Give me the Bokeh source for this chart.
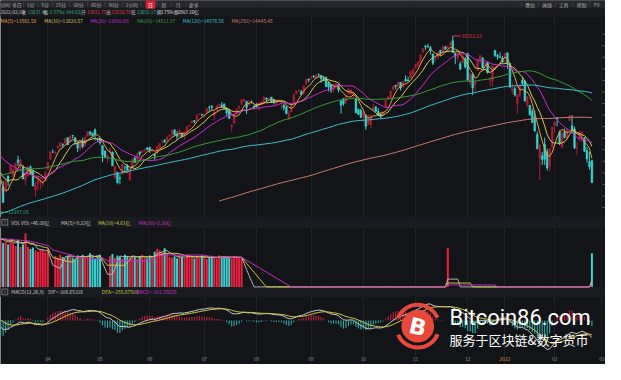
import numpy as np
import pandas as pd
from bokeh.plotting import figure
from bokeh.models import Range1d, Grid, FixedTicker, Label
from bokeh.embed import file_html
from bokeh.resources import INLINE

# ---------------- data ----------------
# closes before the visible window (feed the long moving averages and MACD only)
pre_close = [
    10550, 10473, 10503, 10767, 10680, 10706, 10461, 10363, 10536, 10402, 10542, 10587, 10745,
    10902, 10941, 10998, 11108, 11010, 10968, 10782, 11012, 11042, 11019, 11129, 11210, 11146, 11264, 11311, 11379, 11466, 11665, 11625, 11695, 11775,
    11939, 12056, 11458, 11313, 10847, 11141, 10919, 10853, 11056, 11190, 11050, 10910, 10793, 10778, 10963, 10633, 10672, 10913, 11117, 11085, 11168,
    11326, 11076, 11332, 11154, 11365, 11420, 11579, 11876, 11863, 11768, 11714, 11671, 11478, 11516, 11484, 11506, 11548, 11358, 11431, 11005, 11185, 10912,
    10957, 11161, 11590, 11891, 11895, 11713, 11554, 11787, 11710, 11829, 11925, 11899, 11802, 11905, 11855, 11881, 12037, 12094, 12206, 12199,
    12355, 12349, 12377, 12464, 12519, 12583, 12339, 12405, 12378, 12440, 12595, 12658, 12764, 12755, 12742, 12807, 12771, 12805, 12899, 12843, 12870, 12888,
    12698, 12818, 12740, 13067, 13202, 13036, 13072, 13128, 13112, 12998, 13197, 13457, 13530, 13543, 13635, 13626, 12998, 13337, 13070,
    13403, 13612, 13610, 13777, 13856, 13987, 14007, 13972, 14025, 14095, 14047, 13965, 13865, 13874, 13533, 13465, 13597, 13119, 13192,
    13588, 13358, 12997, 12723,
]
pre_volume = [62, 70, 66, 68, 64, 72, 60, 66, 70, 63, 68, 65, 71, 62, 67, 64, 69, 66, 63]

# visible daily candles (2021/03/05 .. 2022/02/23)
open_ = (
    [12789, 12950, 12840, 13180, 13250, 13200, 13320, 13530, 13420, 13380, 13090, 13190, 13380, 13280, 12880, 13000, 13050, 13020, 13070]
    + [13320, 13540, 13700, 13680, 13800, 13820, 13860, 13890, 14010, 13920, 14060, 14010, 13900, 13780, 13950, 13840, 14040, 14140, 14110, 14180, 13970]
    + [14000, 13840, 13720, 13570, 13700, 13700, 13140, 13260, 13140, 13220, 13380, 13400, 13100, 13350, 13570, 13520, 13700, 13690, 13720, 13790]
    + [13800, 13750, 13640, 13660, 13800, 13920, 13950, 13940, 14040, 14080, 14180, 14090, 14040, 14100, 14050, 14140, 14260, 14330, 14380, 14390, 14520, 14510]
    + [14510, 14550, 14670, 14700, 14490, 14600, 14710, 14720, 14740, 14640, 14600, 14240, 14320, 14530, 14650, 14730, 14810, 14800, 14720, 14780, 14680]
    + [14720, 14710, 14740, 14790, 14870, 14860, 14890, 14840, 14760, 14820, 14790, 14720, 14670, 14410, 14570, 14760, 14960, 15030, 15010, 14960, 15170, 15280]
    + [15290, 15340, 15300, 15380, 15360, 15290, 15320, 15210, 15160, 15040, 15130, 15160, 14800, 14850, 14780, 14960, 14960, 14940, 14850, 14620, 14600]
    + [14460, 14500, 14290, 14290, 14620, 14680, 14580, 14510, 14510, 14680, 14840, 14860, 15050, 15150, 15110, 15210, 15120, 15270, 15260, 15300, 15390]
    + [15510, 15580, 15640, 15860, 15990, 15990, 15960, 15820, 15690, 15750, 15900, 15850, 15980, 15950, 16010, 16110, 15830, 15730, 15610, 15640, 15720]
    + [15830, 15200, 15380, 15150, 15470, 15710, 15730, 15600, 15640, 15230, 15240, 15900, 15790, 15760, 15730]
    + [15730, 15850, 15620, 15020, 15070, 14750, 14930, 15250, 15230, 14710, 14710, 14580, 14450, 14080, 13560, 13620, 13870, 13710, 13380, 13810]
    + [14270, 14440, 14130, 13800, 14130, 14000, 14380, 14270, 14200, 13780, 13970, 14080, 14010, 13730, 13490, 13511.75]
)
high = (
    [12940, 13070, 13130, 13190, 13420, 13325, 13460, 13620, 13560, 13420, 13240, 13400, 13410, 13300, 13050, 13140, 13130, 13070, 13300]
    + [13480, 13710, 13760, 13720, 13830, 13900, 13890, 14010, 14020, 14050, 14060, 14020, 13920, 13950, 14010, 14060, 14140, 14150, 14110, 14210, 14000]
    + [14010, 13840, 13730, 13640, 13800, 13710, 13400, 13260, 13210, 13450, 13390, 13440, 13330, 13560, 13600, 13690, 13720, 13740, 13780, 13800]
    + [13810, 13780, 13660, 13830, 13890, 13970, 13980, 14040, 14080, 14180, 14180, 14150, 14200, 14130, 14150, 14260, 14300, 14380, 14390, 14510, 14540, 14530]
    + [14530, 14640, 14700, 14700, 14600, 14710, 14740, 14780, 14750, 14650, 14620, 14300, 14550, 14640, 14710, 14840, 14850, 14800, 14830, 14820, 14730]
    + [14760, 14770, 14810, 14900, 14880, 14880, 14890, 14840, 14820, 14830, 14800, 14730, 14700, 14600, 14730, 14950, 15030, 15060, 15040, 15140, 15290, 15290]
    + [15350, 15370, 15380, 15400, 15360, 15350, 15330, 15220, 15170, 15170, 15200, 15160, 14840, 14870, 14950, 15080, 15050, 15000, 14850, 14640, 14640]
    + [14590, 14520, 14510, 14510, 14740, 14690, 14650, 14560, 14580, 14830, 14900, 15030, 15130, 15150, 15220, 15210, 15230, 15360, 15330, 15450, 15500]
    + [15600, 15660, 15820, 15960, 16020, 16040, 15990, 15830, 15760, 15870, 15910, 16010, 15990, 16000, 16100, 16212.23, 15840, 15850, 15660, 15810, 15760]
    + [15850, 15420, 15400, 15260, 15700, 15790, 15760, 15650, 15640, 15320, 15580, 15900, 15820, 15860, 15780]
    + [15850, 15850, 15630, 15200, 15110, 14950, 15160, 15320, 15260, 14900, 14710, 14640, 14590, 14140, 13860, 13700, 14010, 13770, 13780, 14240]
    + [14350, 14450, 14170, 14160, 14210, 14200, 14500, 14500, 14250, 13920, 14140, 14160, 14020, 13810, 13710, 13533.78]
)
low = (
    [12397.05, 12600, 12840, 12970, 13240, 13140, 13250, 13400, 13300, 13110, 12980, 13160, 13200, 12960, 12730, 12870, 12900, 12960, 13070]
    + [13310, 13540, 13680, 13640, 13760, 13790, 13800, 13880, 13850, 13920, 13990, 13860, 13700, 13730, 13780, 13820, 14030, 14050, 14030, 13950, 13920]
    + [13860, 13480, 13570, 13470, 13690, 13400, 13120, 13020, 13000, 13220, 13270, 13300, 13070, 13350, 13460, 13520, 13600, 13680, 13710, 13740]
    + [13680, 13700, 13530, 13660, 13780, 13870, 13900, 13940, 14020, 14040, 14060, 13960, 14030, 14030, 13970, 14110, 14250, 14320, 14320, 14380, 14500, 14480]
    + [14470, 14540, 14560, 14600, 14390, 14590, 14660, 14660, 14620, 14480, 14420, 14140, 14300, 14520, 14630, 14720, 14780, 14520, 14700, 14750, 14620]
    + [14660, 14590, 14730, 14780, 14790, 14820, 14760, 14730, 14720, 14790, 14620, 14600, 14520, 14410, 14560, 14760, 14960, 15000, 14940, 14960, 15160, 15210]
    + [15290, 15300, 15290, 15320, 15200, 15240, 15110, 15010, 14980, 14980, 15060, 14990, 14530, 14700, 14740, 14950, 14930, 14870, 14540, 14500, 14440]
    + [14350, 14180, 14280, 14220, 14610, 14570, 14480, 14430, 14470, 14670, 14830, 14860, 15020, 15060, 15100, 15030, 15080, 15220, 15230, 15300, 15370]
    + [15500, 15550, 15610, 15840, 15910, 15950, 15810, 15580, 15680, 15710, 15770, 15850, 15920, 15850, 15990, 15850, 15600, 15650, 15470, 15610, 15510]
    + [15250, 15140, 14930, 15000, 15460, 15620, 15510, 15500, 15400, 15120, 15120, 15760, 15700, 15740, 15640]
    + [15610, 15500, 15100, 14940, 14900, 14530, 14880, 15130, 14790, 14670, 14480, 14330, 14140, 13760, 13094, 13420, 13420, 13300, 13280, 13780]
    + [14120, 14260, 13850, 13780, 13990, 13970, 14370, 14100, 13760, 13630, 13930, 13920, 13700, 13470, 13320, 13032.17]
)
close = (
    [12920, 12609, 13074, 13069, 13399, 13320, 13460, 13472, 13525, 13116, 13215, 13378, 13228, 12962, 12978, 13139, 13060, 13045, 13247]
    + [13480, 13706, 13698, 13689, 13829, 13900, 13850, 13996, 13858, 14039, 14052, 13915, 13786, 13950, 13818, 14017, 14139, 14090, 14051, 14083, 13963]
    + [13895, 13634, 13582, 13633, 13752, 13402, 13389, 13032, 13125, 13430, 13379, 13304, 13300, 13536, 13471, 13661, 13657, 13738, 13736, 13749]
    + [13736, 13756, 13615, 13814, 13882, 13925, 13912, 14020, 14069, 14174, 14073, 14040, 14161, 14030, 14141, 14253, 14272, 14370, 14360, 14501, 14528, 14504]
    + [14522, 14639, 14664, 14665, 14560, 14702, 14733, 14678, 14645, 14543, 14427, 14275, 14499, 14632, 14685, 14837, 14841, 14661, 14763, 14778, 14673]
    + [14681, 14761, 14781, 14895, 14836, 14860, 14788, 14765, 14816, 14823, 14794, 14656, 14526, 14542, 14715, 14943, 15020, 15042, 14946, 15130, 15266, 15259]
    + [15309, 15331, 15364, 15374, 15287, 15248, 15115, 15106, 15038, 15162, 15182, 15044, 14714, 14746, 14897, 15052, 15048, 14970, 14547, 14512, 14449]
    + [14567, 14255, 14434, 14502, 14654, 14580, 14486, 14466, 14572, 14823, 14897, 15022, 15129, 15122, 15216, 15090, 15227, 15236, 15236, 15448, 15498]
    + [15596, 15650, 15812, 15940, 15972, 15982, 15887, 15623, 15704, 15861, 15854, 15974, 15922, 15994, 16057, 15855, 15775, 15845, 15492, 15783, 15538]
    + [15254, 15381, 15085, 15225, 15687, 15787, 15517, 15631, 15413, 15238, 15566, 15782, 15766, 15742, 15645]
    + [15833, 15623, 15100, 15081, 14936, 14943, 15153, 15188, 14807, 14894, 14507, 14340, 14154, 13769, 13855, 13539, 13542.12, 13352.78, 13770.57, 14239.88]
    + [14346.00, 14417.55, 13878.82, 14098.01, 14015.67, 14194.46, 14490.37, 14185.64, 13791.15, 13790.92, 14139.76, 14124.10, 13716.72, 13548.07, 13381.52, 13037.49]
)
# volume in 亿 (the feed has gaps: most later sessions carry no volume)
volume = (
    [65, 60, 62, 58, 66, 60, 56, 64, 55, 58, 73, 55, 52, 54, 50, 48, 52, 50, 47, 52, 0, 0,
     42, 40, 44, 41, 39, 43, 45, 40, 38, 43, 41, 44, 40, 42, 46, 41, 39, 43, 44, 0, 0, 0,
     42, 45, 40, 43, 41, 39, 44, 42, 40, 43, 41, 38, 42, 44, 40, 39, 43, 41, 48, 52,
     50, 47, 53, 45, 41, 40, 42, 39, 43, 41, 40, 42, 44, 41, 39, 42, 40, 43, 41, 38,
     40, 42, 41, 39, 43, 40, 42, 41, 40, 39, 42, 41, 40, 38]
    + [0] * 82 + [53.3] + [0] * 57 + [46.08]
)

month_labels = ["04", "05", "06", "07", "08", "09", "10", "11", "12", "2022", "02", "03"]
month_index = [19, 40, 60, 82, 103, 125, 146, 167, 188, 203, 223, 242]
price_ticks = [12500, 12750, 13000, 13250, 13500, 13750, 14000, 14250, 14500, 14750, 15000, 15250, 15500, 15750, 16000, 16250]

info_date = "2022/02/23"
turnover_rate = "3.75%"
amount_text = "2867.10亿"
ma_legend = [("MA(5)=13561.58", 0), ("MA(10)=13820.57", 45), ("MA(20)=13900.65", 92),
             ("MA(60)=14611.97", 140), ("MA(120)=14976.56", 187), ("MA(250)=14445.46", 237)]
vol_legend = [("VOL", 11), ("VOL=46.08亿", 21), ("MA(5)=9.22亿", 62), ("MA(10)=4.61亿", 100), ("MA(20)=2.30亿", 142)]
macd_legend = [("MACD(12,26,9)", 11), ("DIF=-306.65316", 49), ("DEA=-255.87503", 104), ("MACD=-101.55625", 139)]
left_menu = ["分时", "多日", "1分", "5分", "15分", "30分", "60分", "90分", "2小时", "日", "周", "月", "更多"]
left_menu_x = [5, 16.7, 30.8, 45.8, 61.7, 80, 98.3, 116, 135, 154, 167.5, 182.5, 198.3]
right_menu = ["叠加", "画线", "工具", "帮助", "F9"]
right_menu_x = [543.5, 561, 578, 596.5, 612]

# ---------------- derived series ----------------
o = np.array(open_, float); h = np.array(high, float); l = np.array(low, float); c = np.array(close, float)
v = np.array(volume, float)
n = len(c)
idx = np.arange(n)
npre = len(pre_close)
full_close = pd.Series(list(pre_close) + list(close), dtype=float)

def ma(k):
    return full_close.rolling(k).mean().to_numpy()[npre:]

ema12 = full_close.ewm(span=12, adjust=False).mean()
ema26 = full_close.ewm(span=26, adjust=False).mean()
dif_s = ema12 - ema26
dea_s = dif_s.ewm(span=9, adjust=False).mean()
dif = dif_s.to_numpy()[npre:]
dea = dea_s.to_numpy()[npre:]
hist = 2 * (dif - dea)

full_vol = pd.Series(list(pre_volume) + list(volume), dtype=float)

def vma(k):
    return full_vol.rolling(k).mean().to_numpy()[len(pre_volume):]

# ---------------- layout (reference pixels -> data) ----------------
W, H = 605, 364
REF_W, REF_H = 621, 380
FS = W / REF_W
BG = "#121418"
UP, DN = "#a81c36", "#35d2ce"
UPV, DNV = "#ee2140", "#3ad3d0"
MA_COLORS = ["#e6a23c", "#d8c85c", "#d02ad0", "#3c9c3c", "#3cc2ce", "#cf7a72"]
GRAY = "#b4b4b4"
YEL = "#cfc843"
MAG = "#c82cc8"
RED_T, GRN_T = "#e8364f", "#34b27c"
FONT = "Noto Sans CJK SC"
TXT = f"{5.0*FS:.2f}px"

P_HI = float(h.max()); P_LO = float(l.min())
Y_HI, Y_LO = 37.0, 221.0
ppx = (P_HI - P_LO) / (Y_LO - Y_HI)

def Y(yr):
    return P_HI - (yr - Y_HI) * ppx

X0, DX = 0.15, 2.55

def X(xr):
    return (xr - X0) / DX

VOL_BASE, VOL_PER_PX = 299.0, 1.31
MACD_ZERO, MACD_PER_PX = 334.0, 17.0

p = figure(width=W, height=H, output_backend="svg", toolbar_location=None,
           x_range=Range1d(X(0), X(REF_W)), y_range=Range1d(Y(REF_H), Y(0)),
           min_border=0, x_axis_location=None, y_axis_location=None,
           background_fill_color=BG, border_fill_color=BG, outline_line_color=None)
p.xgrid.visible = False
p.ygrid.visible = False
p.extra_y_ranges = {
    "vol": Range1d(-(REF_H - VOL_BASE) * VOL_PER_PX, VOL_BASE * VOL_PER_PX),
    "macd": Range1d(-(REF_H - MACD_ZERO) * MACD_PER_PX, MACD_ZERO * MACD_PER_PX),
}

# background strips
p.quad(left=X(0), right=X(REF_W), top=Y(0), bottom=Y(8), color="#26272c")
p.quad(left=X(0), right=X(REF_W), top=Y(8), bottom=Y(16.5), color="#191a1e")
p.quad(left=X(0), right=X(REF_W), top=Y(226), bottom=Y(237), color="#1a1b20")
p.quad(left=X(0), right=X(REF_W), top=Y(299.5), bottom=Y(309), color="#1a1b20")

# vertical faint grid
p.add_layout(Grid(dimension=0, ticker=FixedTicker(ticks=month_index), grid_line_color="#1d2026", grid_line_width=1))

# right-edge price ticks
p.segment(x0=X(618), y0=price_ticks, x1=X(621), y1=price_ticks, color="#5a5c62", line_width=1)


def label(x, y, t, color, size=TXT, align="left", font=FONT, **kw):
    p.add_layout(Label(x=x, y=y, text=t, text_align=align, text_baseline="middle",
                       text_font=font, text_font_size=size, text_color=color, **kw))


# toolbar
seps = [(a + b) / 2 for a, b in zip(left_menu_x[:-1], left_menu_x[1:])]
p.segment(x0=[X(s) for s in seps], y0=Y(1.5), x1=[X(s) for s in seps], y1=Y(6.5), color="#3b3c42", line_width=1)
rs = [(a + b) / 2 for a, b in zip(right_menu_x[:-1], right_menu_x[1:])] + [535]
p.segment(x0=[X(s) for s in rs], y0=Y(1.5), x1=[X(s) for s in rs], y1=Y(6.5), color="#3b3c42", line_width=1)
p.quad(left=X(149.5), right=X(158.5), top=Y(0), bottom=Y(8), color="#d9203a")
for t, xr in zip(left_menu, left_menu_x):
    label(X(xr), Y(3.9), t, "#ffffff" if t == "日" else "#a9a9ad", align="center")
for t, xr in zip(right_menu, right_menu_x):
    label(X(xr), Y(3.9), t, "#a9a9ad", align="center")

# info row
chg = c[-1] - c[-2]
pct = chg / c[-2] * 100
info = [
    (info_date, 0, "#c8c8c8"), ("收", 21.5, "#c8c8c8"), (f"{c[-1]:.2f}", 28, GRN_T if chg < 0 else RED_T),
    ("幅", 44, "#c8c8c8"), (f"{pct:.2f}%({chg:.2f})", 49, GRN_T if chg < 0 else RED_T),
    ("开", 83, "#c8c8c8"), (f"{o[-1]:.2f}", 89, RED_T),
    ("高", 108.5, "#c8c8c8"), (f"{h[-1]:.2f}", 114, RED_T),
    ("低", 134, "#c8c8c8"), (f"{l[-1]:.2f}", 140, GRN_T),
    ("换", 160, "#c8c8c8"), (turnover_rate, 164, "#e0e0e0"),
    ("额", 178, "#c8c8c8"), (amount_text, 182, "#e0e0e0"),
]
for t, xr, col in info:
    label(X(xr), Y(12.3), t, col, size=f"{4.7*FS:.2f}px")

for (t, xr), col in zip(ma_legend, MA_COLORS):
    label(X(xr), Y(20.8), t, col)

# candles
up = c >= o
wick_col = np.where(up, UP, DN)
p.segment(x0=idx, y0=l, x1=idx, y1=h, color=list(wick_col), line_width=1)
p.vbar(x=idx, width=0.7, top=np.maximum(o, c), bottom=np.minimum(o, c),
       fill_color=list(wick_col), line_color=list(wick_col), line_width=0.5)

# moving averages
for k, col in zip([5, 10, 20, 60, 120, 250], MA_COLORS):
    p.line(idx, ma(k), color=col, line_width=1)

# high / low markers
imax = int(np.argmax(h)); imin = int(np.argmin(l))
p.segment(x0=[imax], y0=[h[imax]], x1=[imax + 3.2], y1=[h[imax]], color=RED_T, line_width=1)
label(imax + 3.5, h[imax], f"{h[imax]:.2f}", RED_T)
p.segment(x0=[imin], y0=[l[imin]], x1=[imin + 2.8], y1=[l[imin]], color=GRN_T, line_width=1)
label(imin + 3.1, l[imin], f"{l[imin]:.2f}", GRN_T)

# volume panel
vcol = np.where(up, UPV, DNV)
p.vbar(x=idx, width=0.8, top=v, bottom=0, fill_color=list(vcol), line_color=None, y_range_name="vol")
for k, col in zip([5, 10, 20], [GRAY, YEL, MAG]):
    p.line(idx, vma(k), color=col, line_width=1, y_range_name="vol")

# MACD panel
hcol = np.where(hist >= 0, "#b8243c", "#2fa8a4")
p.vbar(x=idx, width=0.45, top=hist, bottom=0, fill_color=list(hcol), line_color=None, y_range_name="macd")
p.line(idx, dif, color="#c8c8c8", line_width=1, y_range_name="macd")
p.line(idx, dea, color=YEL, line_width=1, y_range_name="macd")

# panel headers
for yc in (231.5, 304.2):
    p.quad(left=X(1.5), right=X(7.5), top=Y(yc - 3), bottom=Y(yc + 3), fill_color=None, line_color="#8a8a8a", line_width=0.8)
    label(X(4.5), Y(yc), "?", "#bdbdbd", size=f"{4.5*FS:.2f}px", align="center")
for (t, xr), col in zip(vol_legend, ["#c8c8c8", "#c8c8c8", "#c8c8c8", YEL, MAG]):
    label(X(xr), Y(231.5), t, col)
for (t, xr), col in zip(macd_legend, ["#c8c8c8", "#c8c8c8", YEL, MAG]):
    label(X(xr), Y(304.2), t, col)

# month labels
for t, mi in zip(month_labels, month_index):
    label(mi, Y(374), t, "#d9922e" if t == "2022" else "#8e8e92", align="center")

# watermark
WRED = "#e8473b"
LX, LY = 428.3, 340.0
p.arc(x=[X(LX)], y=[Y(LY)], radius=22 * FS, radius_units="screen", start_angle=0.4, end_angle=2.75,
      color=WRED, line_width=4)
p.arc(x=[X(LX)], y=[Y(LY)], radius=22 * FS, radius_units="screen", start_angle=3.55, end_angle=5.9,
      color=WRED, line_width=4)
p.scatter(x=[X(LX)], y=[Y(LY)], size=33.5 * FS, marker="circle", fill_color=WRED, line_color=None)
label(X(LX), Y(LY + 0.5), "B", "#ffffff", size=f"{23*FS:.1f}px", align="center", font="DejaVu Sans",
      angle=-0.22, text_font_style="bold")
label(X(461), Y(331), "Bitcoin86.com", "#ffffff", size=f"{22.5*FS:.1f}px", font="Roboto")
label(X(461), Y(354), "服务于区块链&数字货币", "#ffffff", size=f"{13.3*FS:.1f}px")

open("out.html", "w").write(file_html(p, INLINE))
